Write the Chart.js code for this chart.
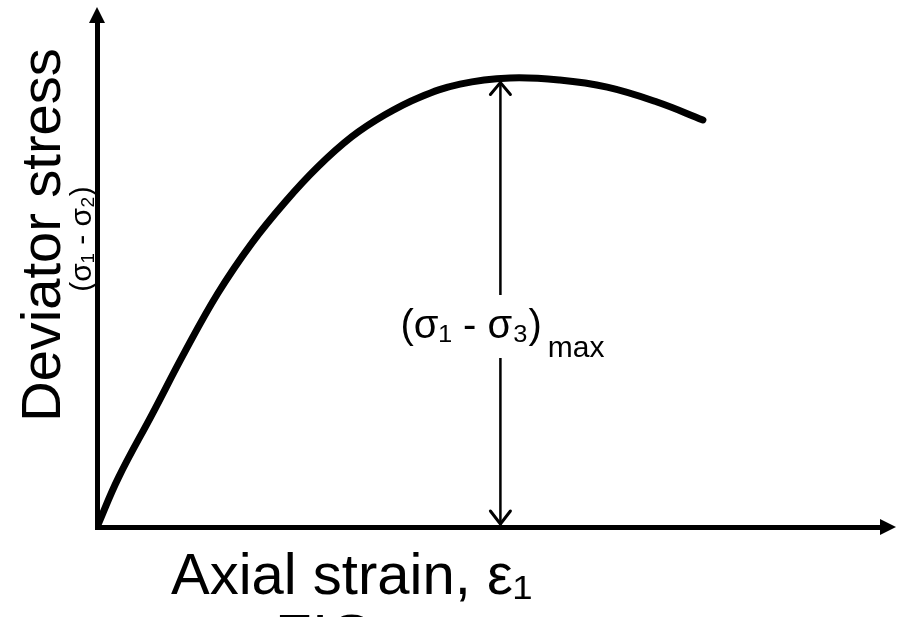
<!DOCTYPE html>
<html>
<head>
<meta charset="utf-8">
<script src="https://cdn.jsdelivr.net/npm/chart.js@4/dist/chart.umd.min.js"></script>
<style>
  html, body { margin: 0; padding: 0; background: #fff; }
  #chart { display: block; }
</style>
</head>
<body>
<canvas id="chart" width="899" height="617"></canvas>
<script>
// stress-strain curve (arbitrary units)
const strain = [0, 0.27, 0.70, 1.11, 1.53, 1.96, 2.38, 2.79, 3.22, 3.64, 4.06, 4.59, 5.22, 5.85, 6.45, 7.08, 7.66];
const stress = [0, 0.96, 2.21, 3.42, 4.57, 5.55, 6.35, 7.03, 7.62, 8.05, 8.38, 8.65, 8.77, 8.73, 8.59, 8.30, 7.95];

// the (s1 - s3)max dimension line and the gap left for its label
const peakStrain = 5.1;
const peakStress = 8.72;
const labelGap = [3.30, 4.53];

// text
const yTitle = 'Deviator stress';
const ySubTitle = '(σ\u2081 - σ\u2082)';
const xTitle = 'Axial strain, ε\u2081';
const peakLabel = '(σ\u2081 - σ\u2083)';
const peakSub = 'max';
const figLabel = 'FIG.';

const curve = strain.map((x, i) => ({ x: x, y: stress[i] }));
const dimLine = [
    { x: peakStrain, y: peakStress },
    { x: peakStrain, y: labelGap[1] },
    { x: peakStrain, y: null },
    { x: peakStrain, y: labelGap[0] },
    { x: peakStrain, y: 0 }
];

// arrows, axis labels and annotation
const sketchBits = {
    afterDraw: function(chart) {
        const ctx = chart.ctx;
        const area = chart.chartArea;
        const xs = chart.scales.x, ys = chart.scales.y;
        ctx.save();
        ctx.fillStyle = '#000';
        ctx.strokeStyle = '#000';

        // axis arrow heads
        ctx.beginPath();
        ctx.moveTo(area.left, area.top - 8);
        ctx.lineTo(area.left - 8, area.top + 8);
        ctx.lineTo(area.left + 8, area.top + 8);
        ctx.closePath();
        ctx.fill();
        ctx.beginPath();
        ctx.moveTo(area.right + 8, area.bottom);
        ctx.lineTo(area.right - 8, area.bottom - 8);
        ctx.lineTo(area.right - 8, area.bottom + 8);
        ctx.closePath();
        ctx.fill();

        // open arrow heads of the dimension line
        const px = xs.getPixelForValue(peakStrain);
        const top = ys.getPixelForValue(peakStress);
        const bot = ys.getPixelForValue(0);
        ctx.lineWidth = 3;
        ctx.lineCap = 'round';
        ctx.beginPath();
        ctx.moveTo(px - 10, top + 14); ctx.lineTo(px, top + 2); ctx.lineTo(px + 10, top + 14);
        ctx.moveTo(px - 10, bot - 16); ctx.lineTo(px, bot - 3); ctx.lineTo(px + 10, bot - 16);
        ctx.stroke();

        // (s1 - s3)max label
        const midY = (ys.getPixelForValue(labelGap[0]) + ys.getPixelForValue(labelGap[1])) / 2;
        ctx.font = '40px "Liberation Sans", Arial, sans-serif';
        ctx.textBaseline = 'middle';
        ctx.textAlign = 'left';
        const w = ctx.measureText(peakLabel).width;
        const lx = px - 100;
        ctx.fillText(peakLabel, lx, midY);
        ctx.font = '30px "Liberation Sans", Arial, sans-serif';
        ctx.fillText(peakSub, lx + w + 6, midY + 22);

        // y axis titles
        ctx.save();
        ctx.translate(area.left - 52, (area.top + area.bottom) / 2 - 36);
        ctx.rotate(-Math.PI / 2);
        ctx.textAlign = 'center';
        ctx.font = '56px "Liberation Sans", Arial, sans-serif';
        ctx.fillText(yTitle, 0, 0);
        ctx.restore();
        ctx.save();
        ctx.translate(area.left - 14, (area.top + area.bottom) / 2 - 32);
        ctx.rotate(-Math.PI / 2);
        ctx.textAlign = 'center';
        ctx.font = '30px "Liberation Sans", Arial, sans-serif';
        ctx.fillText(ySubTitle, 0, 0);
        ctx.restore();

        // x axis title and the clipped figure caption
        ctx.textBaseline = 'alphabetic';
        ctx.textAlign = 'left';
        ctx.font = '58px "Liberation Sans", Arial, sans-serif';
        ctx.fillText(xTitle, area.left + 74, area.bottom + 67);
        ctx.font = '60px "Liberation Sans", Arial, sans-serif';
        ctx.fillText(figLabel, area.left + 178, area.bottom + 129);
        ctx.restore();
    }
};

const ctx = document.getElementById('chart').getContext('2d');
const chart = new Chart(ctx, {
    type: 'line',
    data: {
        datasets: [{
            label: 'Deviator stress',
            data: curve,
            borderColor: '#000',
            borderWidth: 7,
            borderCapStyle: 'round',
            pointRadius: 0,
            tension: 0.4,
            fill: false
        }, {
            label: '(s1 - s3)max',
            data: dimLine,
            borderColor: '#000',
            borderWidth: 2.5,
            pointRadius: 0,
            spanGaps: false,
            fill: false
        }]
    },
    options: {
        responsive: false,
        animation: false,
        layout: { padding: { left: 97, top: 15, right: 11, bottom: 90 } },
        plugins: {
            legend: { display: false },
            tooltip: { enabled: false }
        },
        scales: {
            x: {
                type: 'linear',
                min: 0,
                max: 10,
                grid: { display: false, drawTicks: false },
                ticks: { display: false },
                border: { display: true, color: '#000', width: 5 }
            },
            y: {
                type: 'linear',
                min: 0,
                max: 10,
                grid: { display: false, drawTicks: false },
                ticks: { display: false },
                border: { display: true, color: '#000', width: 5 }
            }
        }
    },
    plugins: [sketchBits]
});
</script>
</body>
</html>
